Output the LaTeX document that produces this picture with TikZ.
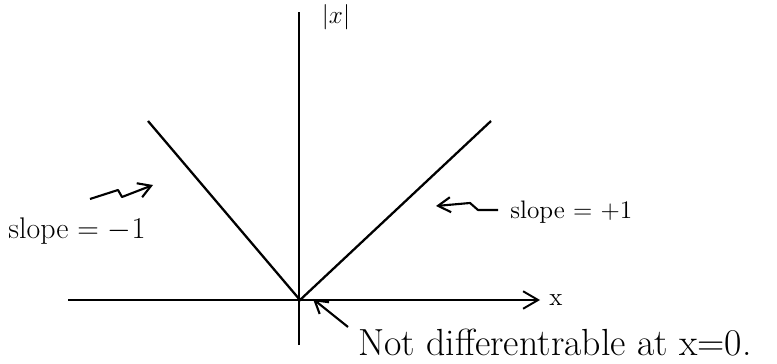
\documentclass[tikz,border=0pt]{standalone}
\usetikzlibrary{arrows.meta}
\begin{document}
\begin{tikzpicture}[
  x=0.02cm, y=-0.02cm,
  eje/.style={line width=1.1pt},
  rama/.style={line width=1.3pt},
  texto/.style={font=\Large, inner sep=0pt},
  flecha/.style={-{Straight Barb[length=2.5mm,width=3mm]}, line width=1.2pt, line join=round}
]
  \useasboundingbox (0,0) rectangle (777,364);
  % ejes
  \coordinate (xizq) at (68,300);
  \coordinate (xder) at (540,300);
  \coordinate (yarr) at (299,12);
  \coordinate (yaba) at (299,345);
  \draw[eje, -{Straight Barb[length=3mm,width=3.5mm]}] (xizq) -- (xder);
  \draw[eje] (yaba) -- (yarr);
  \node[texto] (xlab) at (556,300) {x};
  \node[texto] (abs) at (336,17) {$|x|$};
  % la V
  \coordinate (origen) at (300,300);
  \coordinate (izq) at (148,121);
  \coordinate (der) at (491,121);
  \draw[rama] (izq) -- (origen) -- (der);
  % pendientes
  \node[texto, font=\fontsize{17}{20}\selectfont, anchor=west] (pizq) at (8,231) {slope = $-1$};
  \node[texto, anchor=west] (pder) at (510,212) {slope = $+1$};
  \draw[flecha] (90,199) -- (118,190) -- (122,197) -- (153,185);
  \draw[flecha] (pder.west) ++(-12,-2) -- (478,210) -- (470,203) -- (436,206);
  % no derivable
  \node[texto, font=\fontsize{21.5}{25}\selectfont, anchor=west] (nota) at (358,343) {Not differentrable at x=0.};
  \draw[flecha] (348,327) -- (313,299);
\end{tikzpicture}
\end{document}
